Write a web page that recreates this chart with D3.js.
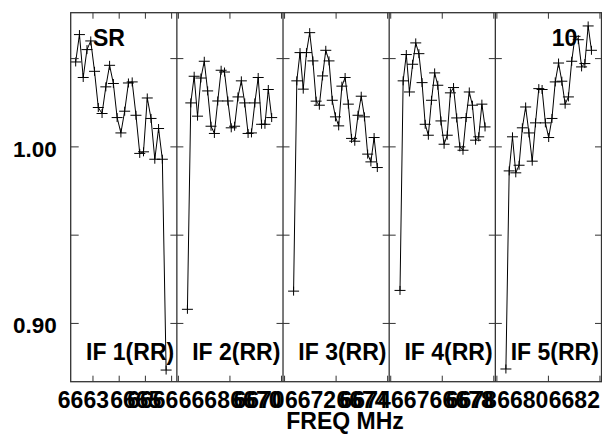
<!DOCTYPE html>
<html><head><meta charset="utf-8">
<script src="https://cdn.jsdelivr.net/npm/d3@7"></script>
<style>body{margin:0;background:#fff}svg{display:block}</style>
</head><body>
<svg id="c" width="602" height="435"></svg>
<script>
// ---------- data ----------
const panelNames = ["IF 1(RR)", "IF 2(RR)", "IF 3(RR)", "IF 4(RR)", "IF 5(RR)"];
// frequency span (MHz) of each panel
const panelFreqDomains = [[6662.15, 6666.2], [6665.94, 6670.06], [6669.94, 6674.06], [6673.94, 6678.06], [6677.94, 6682.06]];
// first / last channel frequency of each IF
const channelFreqRanges = [[6662.34, 6665.79], [6666.35, 6669.62], [6670.35, 6673.60], [6674.36, 6677.66], [6678.35, 6681.67]];
const panelTicks = [[6663, 6664, 6665, 6666], [6666, 6668, 6670], [6670, 6672, 6674], [6674, 6676, 6678], [6678, 6680, 6682]];
const panelTickLabels = [[6663, 6665], [6666, 6668, 6670], [6670, 6672, 6674], [6674, 6676, 6678], [6678, 6680, 6682]];
const yTicks = [0.90, 0.95, 1.00, 1.05];
const yTickLabels = [0.90, 1.00];

const if1Values = [1.0481, 1.0636, 1.0393, 1.0551, 1.0600, 1.0428, 1.0223, 1.0189, 1.0340, 1.0462, 1.0359, 1.0166, 1.0079, 1.0202, 1.0362, 1.0368, 1.0179, 0.9963, 0.9972, 1.0277, 1.0161, 0.9930, 1.0104, 0.9930, 0.8736];
const if2Values = [0.9080, 1.0249, 1.0400, 1.0174, 1.0390, 1.0485, 1.0317, 1.0117, 1.0076, 1.0260, 1.0434, 1.0424, 1.0260, 1.0108, 1.0117, 1.0283, 1.0374, 1.0249, 1.0076, 1.0079, 1.0249, 1.0393, 1.0128, 1.0128, 1.0325, 1.0166];
const if3Values = [0.9183, 1.0374, 1.0534, 1.0327, 1.0534, 1.0647, 1.0487, 1.0259, 1.0236, 1.0402, 1.0547, 1.0487, 1.0264, 1.0170, 1.0119, 1.0344, 1.0393, 1.0242, 1.0048, 1.0032, 1.0179, 1.0287, 1.0170, 0.9959, 0.9915, 1.0053, 0.9883];
const if4Values = [0.9187, 1.0374, 1.0523, 1.0311, 1.0468, 1.0589, 1.0528, 1.0364, 1.0128, 1.0066, 1.0264, 1.0419, 1.0349, 1.0147, 1.0015, 1.0066, 1.0306, 1.0336, 1.0164, 1.0000, 0.9981, 1.0166, 1.0311, 1.0236, 1.0038, 1.0057, 1.0242, 1.0113];
const if5Values = [0.8742, 0.9864, 1.0057, 0.9853, 0.9896, 1.0108, 1.0226, 1.0079, 0.9919, 1.0136, 1.0330, 1.0325, 1.0136, 1.0053, 1.0161, 1.0368, 1.0475, 1.0372, 1.0242, 1.0283, 1.0485, 1.0626, 1.0607, 1.0453, 1.0472, 1.0685, 1.0547];
const seriesValues = [if1Values, if2Values, if3Values, if4Values, if5Values];

const sourceLabel = "SR";
const antennaLabel = "10";
const xTitle = "FREQ MHz";

// ---------- layout ----------
(function draw() {
const svg = d3.select("#c");
const FONT = "'Liberation Sans', Arial, Helvetica, sans-serif";
const FS = 23;
const pL = 70.7, pR = 601.5, pT = 12.7, pB = 381.7;
const frameColor = "#333";
const labelShift = [16, 0, 0, 0, 0];

const panelScale = d3.scaleBand().domain(d3.range(5)).range([pL, pR]).padding(0);
const y = d3.scaleLinear().domain([0.867, 1.076]).range([pB, pT]);

const g = svg.append("g");

seriesValues.forEach((vals, k) => {
  const x0 = panelScale(k), x1 = x0 + panelScale.bandwidth();
  const x = d3.scaleLinear().domain(panelFreqDomains[k]).range([x0, x1]);
  const [fa, fb] = channelFreqRanges[k];
  const chanFreq = d3.scaleLinear().domain([0, vals.length - 1]).range([fa, fb]);
  const pts = vals.map((v, i) => [x(chanFreq(i)), y(v)]);

  const pg = g.append("g");
  panelTicks[k].forEach(t => {
    const xp = x(t);
    if (xp < x0 - 0.5 || xp > x1 + 0.5) return;
    pg.append("line").attr("x1", xp).attr("x2", xp).attr("y1", pT).attr("y2", pT + 6)
      .attr("stroke", frameColor).attr("stroke-width", 1);
    pg.append("line").attr("x1", xp).attr("x2", xp).attr("y1", pB).attr("y2", pB - 6)
      .attr("stroke", frameColor).attr("stroke-width", 1);
  });
  panelTickLabels[k].forEach(t => {
    pg.append("text").attr("x", x(t) + labelShift[k]).attr("y", 408)
      .attr("text-anchor", "end").attr("font-family", FONT).attr("font-weight", "bold")
      .attr("font-size", FS).attr("fill", "#000").text(String(t));
  });

  pg.append("path").attr("d", d3.line()(pts)).attr("fill", "none")
    .attr("stroke", "#000").attr("stroke-width", 1);
  pg.selectAll("path.m").data(pts).enter().append("path").attr("class", "m")
    .attr("d", p => `M${p[0]-5.5},${p[1]}H${p[0]+5.5}M${p[0]},${p[1]-4.5}V${p[1]+4.5}`)
    .attr("stroke", "#000").attr("stroke-width", 1).attr("fill", "none");

  pg.append("text").attr("x", x0 + 15.3).attr("y", 360)
    .attr("font-family", FONT).attr("font-weight", "bold").attr("font-size", FS)
    .attr("fill", "#000").text(panelNames[k]);
});

g.append("rect").attr("x", pL).attr("y", pT).attr("width", pR - pL).attr("height", pB - pT)
  .attr("fill", "none").attr("stroke", frameColor).attr("stroke-width", 1.3);
const borders = d3.range(6).map(k => k < 5 ? panelScale(k) : pR);
borders.forEach((bx, k) => {
  if (k > 0 && k < 5) {
    g.append("line").attr("x1", bx).attr("x2", bx).attr("y1", pT).attr("y2", pB)
      .attr("stroke", frameColor).attr("stroke-width", 1.3);
  }
  yTicks.forEach(t => {
    const a = k === 0 ? bx : bx - 6.5;
    const b = k === 0 ? bx + 8 : (k === 5 ? bx : bx + 6.5);
    g.append("line").attr("x1", a).attr("x2", b).attr("y1", y(t)).attr("y2", y(t))
      .attr("stroke", frameColor).attr("stroke-width", 1);
  });
});

yTickLabels.forEach(t => {
  g.append("text").attr("x", 56.7).attr("y", y(t) + 10)
    .attr("text-anchor", "end").attr("font-family", FONT).attr("font-weight", "bold")
    .attr("font-size", 22.5).attr("fill", "#000").text(d3.format(".2f")(t));
});

g.append("text").attr("x", 93).attr("y", 46).attr("font-family", FONT).attr("font-weight", "bold")
  .attr("font-size", FS).attr("fill", "#000").text(sourceLabel);
g.append("text").attr("x", 551.7).attr("y", 46).attr("font-family", FONT).attr("font-weight", "bold")
  .attr("font-size", FS).attr("fill", "#000").text(antennaLabel);
g.append("text").attr("x", 345).attr("y", 428.5).attr("text-anchor", "middle").attr("font-family", FONT)
  .attr("font-weight", "bold").attr("font-size", FS).attr("fill", "#000").text(xTitle);
})();
</script>
</body></html>
